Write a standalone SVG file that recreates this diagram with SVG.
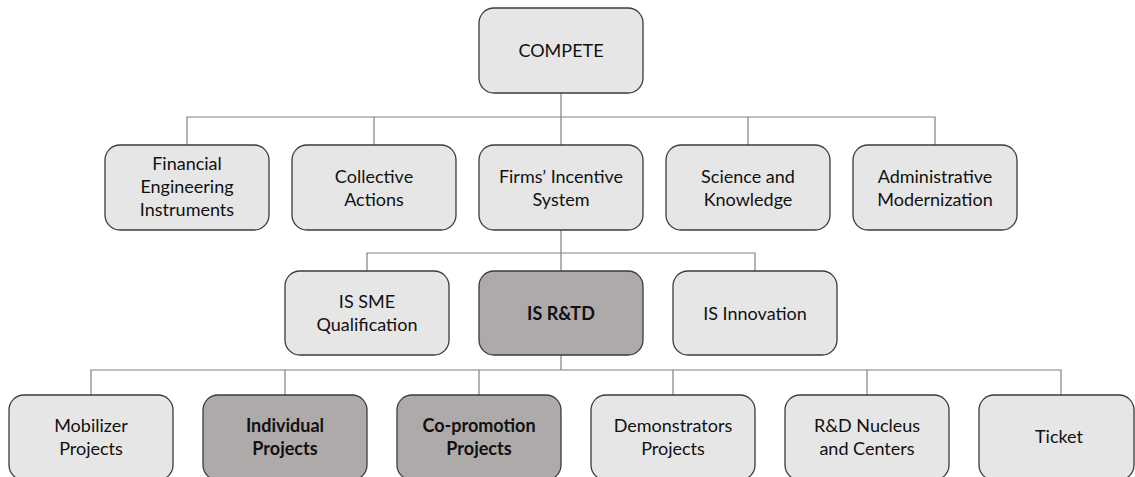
<svg xmlns="http://www.w3.org/2000/svg" width="1135" height="477" viewBox="0 0 1135 477">
  <style>
    .box { fill: #e7e6e6; stroke: #3b3b3b; stroke-width: 1.3; }
    .dark { fill: #aeaaaa; }
    .t { font-family: Lato, "Liberation Sans", sans-serif; font-size: 18px; fill: #111111; text-anchor: middle; }
    .b { font-weight: bold; }
    .conn { fill: none; stroke: #808080; stroke-width: 1.2; }
  </style>
  <rect width="1135" height="477" fill="#ffffff"/>

  <g id="connectors">
    <path class="conn" d="M561 93 V117 M187 145 V117 H935 V145 M374 117 V145 M748 117 V145 M561 117 V145"/>
    <path class="conn" d="M561 230 V253 M367 271 V253 H755 V271 M561 253 V271"/>
    <path class="conn" d="M561 355 V370 M91 395 V370 H1061 V395 M285 370 V395 M479 370 V395 M673 370 V395 M867 370 V395"/>
  </g>

  <g id="compete">
    <rect class="box" x="479" y="8" width="164" height="85" rx="15"/>
    <text class="t" x="561" y="57">COMPETE</text>
  </g>

  <g id="financial">
    <rect class="box" x="105" y="145" width="164" height="85" rx="15"/>
    <text class="t" x="187" y="170">Financial</text>
    <text class="t" x="187" y="193">Engineering</text>
    <text class="t" x="187" y="216">Instruments</text>
  </g>
  <g id="collective">
    <rect class="box" x="292" y="145" width="164" height="85" rx="15"/>
    <text class="t" x="374" y="183">Collective</text>
    <text class="t" x="374" y="206">Actions</text>
  </g>
  <g id="firms">
    <rect class="box" x="479" y="145" width="164" height="85" rx="15"/>
    <text class="t" x="561" y="183">Firms’ Incentive</text>
    <text class="t" x="561" y="206">System</text>
  </g>
  <g id="science">
    <rect class="box" x="666" y="145" width="164" height="85" rx="15"/>
    <text class="t" x="748" y="183">Science and</text>
    <text class="t" x="748" y="206">Knowledge</text>
  </g>
  <g id="admin">
    <rect class="box" x="853" y="145" width="164" height="85" rx="15"/>
    <text class="t" x="935" y="183">Administrative</text>
    <text class="t" x="935" y="206">Modernization</text>
  </g>

  <g id="is-sme">
    <rect class="box" x="285" y="271" width="164" height="84" rx="15"/>
    <text class="t" x="367" y="308">IS SME</text>
    <text class="t" x="367" y="331">Qualification</text>
  </g>
  <g id="is-rtd">
    <rect class="box dark" x="479" y="271" width="164" height="84" rx="15"/>
    <text class="t b" x="561" y="320">IS R&amp;TD</text>
  </g>
  <g id="is-innovation">
    <rect class="box" x="673" y="271" width="164" height="84" rx="15"/>
    <text class="t" x="755" y="320">IS Innovation</text>
  </g>

  <g id="mobilizer">
    <rect class="box" x="9" y="395" width="164" height="85" rx="15"/>
    <text class="t" x="91" y="432">Mobilizer</text>
    <text class="t" x="91" y="455">Projects</text>
  </g>
  <g id="individual">
    <rect class="box dark" x="203" y="395" width="164" height="85" rx="15"/>
    <text class="t b" x="285" y="432">Individual</text>
    <text class="t b" x="285" y="455">Projects</text>
  </g>
  <g id="copromotion">
    <rect class="box dark" x="397" y="395" width="164" height="85" rx="15"/>
    <text class="t b" x="479" y="432">Co-promotion</text>
    <text class="t b" x="479" y="455">Projects</text>
  </g>
  <g id="demonstrators">
    <rect class="box" x="591" y="395" width="164" height="85" rx="15"/>
    <text class="t" x="673" y="432">Demonstrators</text>
    <text class="t" x="673" y="455">Projects</text>
  </g>
  <g id="rd-nucleus">
    <rect class="box" x="785" y="395" width="164" height="85" rx="15"/>
    <text class="t" x="867" y="432">R&amp;D Nucleus</text>
    <text class="t" x="867" y="455">and Centers</text>
  </g>
  <g id="ticket">
    <rect class="box" x="979" y="395" width="155" height="85" rx="15"/>
    <text class="t" x="1059" y="443">Ticket</text>
  </g>
</svg>
